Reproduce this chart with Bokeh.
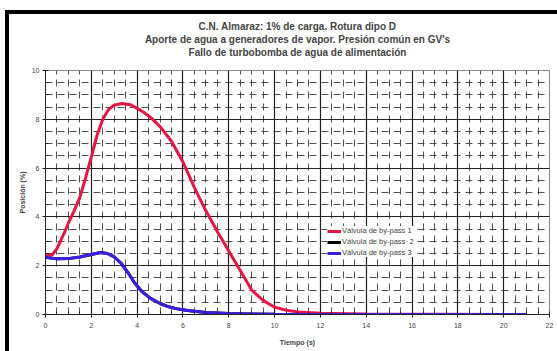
from bokeh.plotting import figure
from bokeh.models import SingleIntervalTicker, Range1d, Legend, LegendItem, Title, Spacer, Div
from bokeh.layouts import column, row
from bokeh.embed import file_html
from bokeh.resources import INLINE

title_lines = ["C.N. Almaraz: 1% de carga. Rotura dipo D",
               "Aporte de agua a generadores de vapor. Presión común en GV's",
               "Fallo de turbobomba de agua de alimentación"]
x_label = "Tiempo (s)"
y_label = "Posición (%)"
series_names = ["Válvula de by-pass 1", "Válvula de by-pass  2", "Válvula de by-pass 3"]

t_bp1 = [0, 0.3, 0.5, 0.8, 1.0, 1.25, 1.5, 1.75, 2.0, 2.25, 2.5, 2.75, 3.0, 3.35, 3.7, 4.0, 4.3, 4.6, 5.0, 5.5, 6.0, 6.5, 7.0, 7.5, 8.0, 8.5, 9.0, 9.5, 10.0, 10.5, 11.0, 12.0, 14.0, 21.0]
v_bp1 = [2.4, 2.45, 2.7, 3.3, 3.75, 4.25, 4.8, 5.6, 6.45, 7.35, 8.0, 8.4, 8.58, 8.65, 8.6, 8.45, 8.28, 8.07, 7.7, 7.1, 6.25, 5.2, 4.25, 3.4, 2.6, 1.8, 1.0, 0.58, 0.3, 0.18, 0.1, 0.05, 0.02, 0.0]

t_bp2 = [0, 0.5, 1.0, 1.5, 2.0, 2.4, 2.7, 3.0, 3.3, 3.6, 3.9, 4.2, 4.6, 5.0, 5.3, 5.7, 6.2, 7.0, 8.0, 9.0, 10.0, 21.0]
v_bp2 = [2.35, 2.28, 2.29, 2.36, 2.46, 2.54, 2.5, 2.36, 2.1, 1.72, 1.28, 0.95, 0.65, 0.45, 0.34, 0.24, 0.16, 0.08, 0.04, 0.02, 0.01, 0.0]

t_bp3 = [0, 0.5, 1.0, 1.5, 2.0, 2.4, 2.7, 3.0, 3.3, 3.6, 3.9, 4.2, 4.6, 5.0, 5.3, 5.7, 6.2, 7.0, 8.0, 9.0, 10.0, 21.0]
v_bp3 = [2.35, 2.28, 2.29, 2.36, 2.46, 2.54, 2.5, 2.36, 2.1, 1.72, 1.28, 0.95, 0.65, 0.45, 0.34, 0.24, 0.16, 0.08, 0.04, 0.02, 0.01, 0.0]

FONT = "Liberation Sans"


def black_div(w, h):
    return Div(text="", width=w, height=h,
               styles={"background-color": "black", "margin": "0", "padding": "0",
                       "line-height": "0", "overflow": "hidden"})


fig = figure(width=548, height=337, output_backend="svg", toolbar_location=None,
             x_range=Range1d(0, 22), y_range=Range1d(0, 10), title=None,
             min_border_left=36, min_border_right=8, min_border_top=56, min_border_bottom=37)

# spacer title nearest the frame, then the three title lines
fig.add_layout(Title(text=" ", text_font=FONT, text_font_size="10px", standoff=0, offset=0), "above")
for line in reversed(title_lines):
    fig.add_layout(Title(text=line, align="center", text_font=FONT, text_font_size="10px",
                         text_font_style="bold", standoff=0, offset=0), "above")

fig.xaxis.ticker = SingleIntervalTicker(interval=2, num_minor_ticks=4)
fig.yaxis.ticker = SingleIntervalTicker(interval=2, num_minor_ticks=4)
for ax in (fig.xaxis, fig.yaxis):
    ax.major_label_text_font = FONT
    ax.major_label_text_font_size = "7px"
    ax.axis_label_text_font = FONT
    ax.axis_label_text_font_size = "7px"
    ax.axis_label_text_font_style = "bold"
    ax.axis_line_color = "#222222"
    ax.major_tick_line_color = "#222222"
    ax.minor_tick_line_color = "#222222"
    ax.major_tick_out = 3
    ax.major_tick_in = 0
    ax.minor_tick_out = 0
    ax.minor_tick_in = 3
fig.xaxis.axis_label = x_label
fig.yaxis.axis_label = y_label
fig.xaxis.major_label_standoff = 5
fig.yaxis.major_label_standoff = 3
fig.xaxis.axis_label_standoff = 8
fig.yaxis.axis_label_standoff = 3

fig.grid.grid_line_color = "#222222"
fig.grid.grid_line_alpha = 1.0
fig.grid.grid_line_width = 1.2
fig.grid.minor_grid_line_color = "#333333"
fig.grid.minor_grid_line_alpha = 0.85
fig.grid.minor_grid_line_dash = "7 5"
fig.outline_line_color = "#888888"

r2 = fig.line(t_bp2, v_bp2, line_color="black", line_width=3)
r1 = fig.line(t_bp1, v_bp1, line_color="#ee1144", line_width=3)
r3 = fig.line(t_bp3, v_bp3, line_color="#3a1ee8", line_width=3)

legend = Legend(items=[LegendItem(label=series_names[0], renderers=[r1]),
                       LegendItem(label=series_names[1], renderers=[r2]),
                       LegendItem(label=series_names[2], renderers=[r3])],
                location=(282, 57), label_text_font=FONT, label_text_font_size="7.5px",
                glyph_width=14, glyph_height=8, label_height=8, spacing=2,
                padding=4, margin=0, border_line_color=None,
                background_fill_color="white", background_fill_alpha=1.0,
                label_standoff=1)
fig.add_layout(legend)

p = column(Spacer(width=557, height=10),
           row(Spacer(width=5, height=341),
               column(black_div(552, 4),
                      row(black_div(4, 337), fig))))

open("out.html", "w").write(file_html(p, INLINE))
